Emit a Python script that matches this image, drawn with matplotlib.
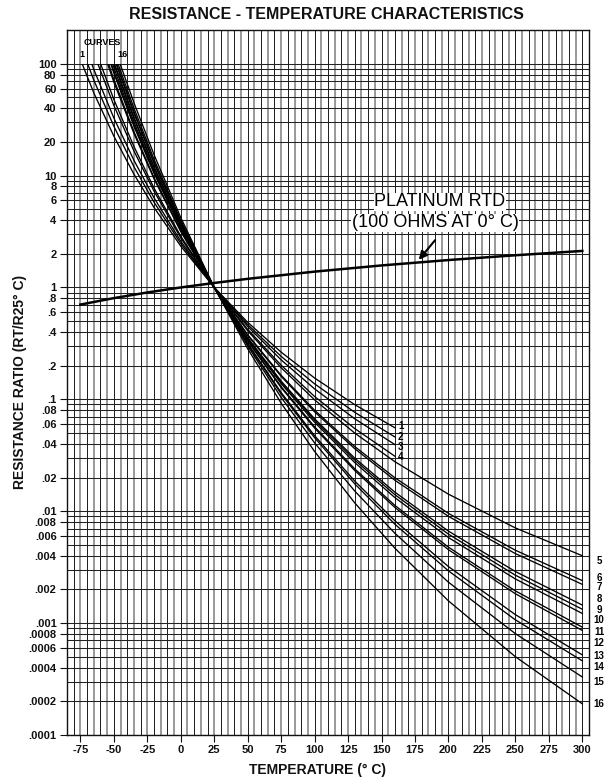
import matplotlib
matplotlib.use("Agg")
import matplotlib.pyplot as plt
import numpy as np
from matplotlib.patches import Rectangle
from matplotlib.ticker import NullLocator

plt.rcParams['font.family'] = ['Liberation Sans', 'DejaVu Sans']

# ---------------- data ----------------
temps = [-80, -65, -50, -35, -20, 0, 25, 50, 75, 100, 130, 160, 200, 250, 300]

c1 = [154, 54.9, 22.5, 10.3, 5.19, 2.34, 1, 0.488, 0.264, 0.155, 0.0896, 0.0557, None, None, None]
c2 = [214, 71.4, 27.6, 12.0, 5.78, 2.47, 1, 0.466, 0.242, 0.1375, 0.0765, 0.0461, None, None, None]
c3 = [282, 89.0, 32.7, 13.7, 6.33, 2.59, 1, 0.448, 0.225, 0.124, 0.0670, 0.0394, None, None, None]
c4 = [429, 124, 42.4, 16.6, 7.26, 2.77, 1, 0.422, 0.202, 0.106, 0.0548, 0.0310, None, None, None]
c5 = [521, 145, 47.9, 18.2, 7.73, 2.87, 1, 0.410, 0.1915, 0.0989, 0.0499, 0.0277, 0.0142, 0.00709, 0.00400]
c6 = [930, 230, 68.4, 23.8, 9.35, 3.16, 1, 0.378, 0.164, 0.0799, 0.0378, 0.0199, 0.00956, 0.00448, 0.00240]
c7 = [1020, 246, 72.3, 24.7, 9.62, 3.21, 1, 0.373, 0.1605, 0.0773, 0.0362, 0.0189, 0.0090, 0.00418, 0.00222]
c8 = [1170, 283, 82.3, 27.6, 10.5, 3.37, 1, 0.355, 0.1456, 0.0670, 0.0298, 0.0148, 0.00664, 0.00289, 0.00145]
c9 = [1230, 297, 85.5, 28.5, 10.7, 3.41, 1, 0.351, 0.1425, 0.0649, 0.0286, 0.01405, 0.00624, 0.00268, 0.00133]
c10 = [1400, 329, 92.3, 30.1, 11.15, 3.48, 1, 0.346, 0.1384, 0.0623, 0.0272, 0.01323, 0.00582, 0.00248, 0.00122]
c11 = [1520, 358, 100, 32.3, 11.8, 3.59, 1, 0.335, 0.130, 0.0568, 0.0239, 0.01127, 0.00477, 0.00194, 0.00092]
c12 = [1620, 376, 104, 33.3, 12.0, 3.63, 1, 0.331, 0.1274, 0.0553, 0.0231, 0.0108, 0.00453, 0.00183, 0.00086]
c13 = [1650, 400, 113, 36.1, 12.9, 3.79, 1, 0.315, 0.115, 0.0473, 0.0186, 0.00821, 0.00320, 0.00119, 0.00052]
c14 = [1720, 418, 117, 37.3, 13.2, 3.85, 1, 0.311, 0.1118, 0.0454, 0.01756, 0.00765, 0.00293, 0.00107, 0.00046]
c15 = [1840, 453, 127, 40.1, 14.0, 3.98, 1, 0.300, 0.104, 0.0408, 0.01514, 0.00635, 0.00232, 0.000805, 0.00033]
c16 = [2000, 507, 143, 44.8, 15.4, 4.21, 1, 0.283, 0.0924, 0.0342, 0.01186, 0.00467, 0.00158, 0.000501, 0.00019]
curves = [c1, c2, c3, c4, c5, c6, c7, c8, c9, c10, c11, c12, c13, c14, c15, c16]

rtd_temps = [-75, -50, -25, 0, 25, 50, 100, 150, 200, 250, 300]
rtd_ratio = [0.703, 0.803, 0.902, 1.0, 1.097, 1.194, 1.385, 1.573, 1.758, 1.940, 2.120]

x_ticks = [-75, -50, -25, 0, 25, 50, 75, 100, 125, 150, 175, 200, 225, 250, 275, 300]
y_ticks = [100, 80, 60, 40, 20, 10, 8, 6, 4, 2, 1, .8, .6, .4, .2, .1, .08, .06, .04, .02,
           .01, .008, .006, .004, .002, .001, .0008, .0006, .0004, .0002, .0001]
y_tick_labels = ['100', '80', '60', '40', '20', '10', '8', '6', '4', '2', '1', '.8', '.6', '.4',
                 '.2', '.1', '.08', '.06', '.04', '.02', '.01', '.008', '.006', '.004', '.002',
                 '.001', '.0008', '.0006', '.0004', '.0002', '.0001']

left_labels = ['1', '2', '3', '4']
left_label_y = [0.0574, 0.0458, 0.0373, 0.0306]
right_labels = ['5', '6', '7', '8', '9', '10', '11', '12', '13', '14', '15', '16']
right_label_y = [0.00358, 0.00254, 0.00209, 0.00163, 0.00130, 0.00106, 0.000832,
                 0.000663, 0.000507, 0.000404, 0.000297, 0.000191]

# ---------------- figure ----------------
fig = plt.figure(figsize=(6.04, 7.77), dpi=100)
ax = fig.add_axes([67 / 604, 42 / 777, 522 / 604, 705 / 777])
ax.set_yscale('log')
ax.set_xlim(-85, 305)
ax.set_ylim(1e-4, 200)

# grid
for t in range(-80, 301, 5):
    if t % 10 == 0:
        ax.axvline(t, color='#1a1a1a', lw=0.7, zorder=1)
    else:
        ax.axvline(t, color='#999999', lw=1.4, zorder=1)
for e in range(-4, 2):
    for m in range(1, 10):
        ax.axhline(m * 10.0 ** e, color='#222222', lw=0.75, zorder=1)
ax.axhline(100, color='#222222', lw=0.75, zorder=1)

# curves
clip = Rectangle((-85, 1e-5), 390, 100 - 1e-5, transform=ax.transData)
for c in curves:
    ln, = ax.plot(temps, np.array(c, dtype=float), color='black', lw=0.95, zorder=3)
    ln.set_clip_path(clip)

ax.plot(rtd_temps, rtd_ratio, color='black', lw=1.8, zorder=4)

# ticks
ax.set_xticks(x_ticks)
ax.set_xticklabels([str(t) for t in x_ticks])
ax.set_yticks(y_ticks)
ax.set_yticklabels(y_tick_labels)
ax.yaxis.set_minor_locator(NullLocator())
ax.xaxis.set_minor_locator(NullLocator())
ax.tick_params(axis='both', direction='out', length=5, width=0.8, pad=2.5,
               labelsize=8, colors='#111111')
for lbl in ax.get_xticklabels() + ax.get_yticklabels():
    lbl.set_fontweight('bold')
for s in ax.spines.values():
    s.set_linewidth(1.0)
    s.set_color('#111111')

# text
fig.text(0.541, 0.981, 'RESISTANCE - TEMPERATURE CHARACTERISTICS', ha='center', va='center',
         fontsize=11.5, fontweight='bold', color='#111111')
fig.text(0.033, 0.508, 'RESISTANCE RATIO (RT/R25° C)', rotation=90, ha='center', va='center',
         fontsize=10, fontweight='bold', color='#111111')
fig.text(0.525, 0.009, 'TEMPERATURE (° C)', ha='center', va='center',
         fontsize=10, fontweight='bold', color='#111111')

ax.text(-58.5, 154, 'CURVES', ha='center', va='center', fontsize=6.5, fontweight='bold', zorder=5)
ax.text(-73.8, 122, '1', ha='center', va='center', fontsize=6.5, fontweight='bold', zorder=5)
ax.text(-43.2, 122, '16', ha='center', va='center', fontsize=6.5, fontweight='bold', zorder=5)

for lab, yv in zip(left_labels, left_label_y):
    ax.text(162.3, yv, lab, ha='left', va='center', fontsize=7, fontweight='bold', zorder=5)
for lab, yv in zip(right_labels, right_label_y):
    ax.text(312.5, yv, lab, ha='center', va='center', fontsize=7, fontweight='bold',
            zorder=5, clip_on=False)

ax.text(193.7, 5.81, 'PLATINUM RTD', ha='center', va='center', fontsize=13, zorder=6,
        bbox=dict(facecolor='white', edgecolor='none', pad=0.6))
ax.text(189.9, 3.77, '(100 OHMS AT 0° C)', ha='center', va='center', fontsize=13, zorder=6,
        bbox=dict(facecolor='white', edgecolor='none', pad=0.6))
ax.annotate('', xy=(176.5, 1.69), xytext=(191.4, 2.77),
            arrowprops=dict(arrowstyle='-|>', color='black', lw=1.5, mutation_scale=12),
            zorder=6)

fig.savefig('out.png', dpi=100)
